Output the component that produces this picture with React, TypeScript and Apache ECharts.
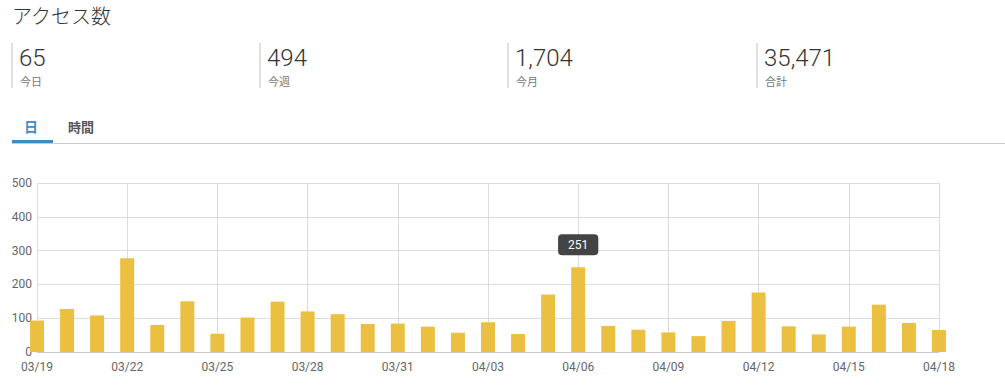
import React, { useEffect, useRef } from "react";
import * as echarts from "echarts";

const dates = [
  "03/19", "03/20", "03/21", "03/22", "03/23", "03/24", "03/25", "03/26", "03/27", "03/28",
  "03/29", "03/30", "03/31", "04/01", "04/02", "04/03", "04/04", "04/05", "04/06", "04/07",
  "04/08", "04/09", "04/10", "04/11", "04/12", "04/13", "04/14", "04/15", "04/16", "04/17", "04/18",
];
const visits = [
  93, 127, 108, 277, 80, 150, 54, 102, 149, 120, 112, 83, 84,
  75, 57, 88, 53, 170, 251, 77, 66, 58, 47, 92, 176,
  76, 52, 75, 140, 86, 65,
];
const highlightIndex = 18;
const statValues = ["65", "494", "1,704", "35,471"];
const statLabels = ["今日", "今週", "今月", "合計"];
const tabs = ["日", "時間"];
const title = "アクセス数";

const FONT = "'Noto Sans CJK JP', 'Noto Sans', sans-serif";
const NUM_FONT = "Roboto, 'Noto Sans', sans-serif";

export default function App() {
  const ref = useRef<HTMLDivElement>(null);
  useEffect(() => {
    if (!ref.current) return;
    const chart = echarts.init(ref.current, undefined, { renderer: "svg" });
    const statX = [12, 260, 508, 757];
    const graphic: any[] = [
      {
        type: "text",
        x: 12,
        y: 15,
        style: { text: title, font: `300 20px ${FONT}`, lineHeight: 22, fill: "#333", textVerticalAlign: "middle" },
      },
    ];
    statX.forEach((x, i) => {
      graphic.push({
        type: "line",
        shape: { x1: x, y1: 43, x2: x, y2: 88 },
        style: { stroke: "#d6d6d6", lineWidth: 1.5 },
      });
      graphic.push({
        type: "text",
        x: x + 7,
        y: 58,
        style: { text: statValues[i], font: `300 24px ${NUM_FONT}`, lineHeight: 24, fill: "#333", textVerticalAlign: "middle" },
      });
      graphic.push({
        type: "text",
        x: x + 8,
        y: 81,
        style: { text: statLabels[i], font: `11px ${FONT}`, lineHeight: 11, fill: "#777", textVerticalAlign: "middle" },
      });
    });
    graphic.push({
      type: "line",
      shape: { x1: 12, y1: 143.5, x2: 1005, y2: 143.5 },
      style: { stroke: "#c5ced6", lineWidth: 1 },
    });
    graphic.push({
      type: "rect",
      shape: { x: 12, y: 140, width: 41, height: 3 },
      style: { fill: "#3a8dcc" },
    });
    graphic.push({
      type: "text",
      x: 31,
      y: 126,
      style: { text: tabs[0], font: `bold 14px ${FONT}`, fill: "#3a8dcc", textAlign: "center", textVerticalAlign: "middle" },
    });
    graphic.push({
      type: "text",
      x: 81,
      y: 126,
      style: { text: tabs[1], font: `bold 13px ${FONT}`, fill: "#555", textAlign: "center", textVerticalAlign: "middle" },
    });

    chart.setOption({
      animation: false,
      graphic,
      grid: { left: 37, right: 66, top: 183, bottom: 39 },
      xAxis: {
        type: "category",
        data: dates,
        boundaryGap: false,
        axisLine: { lineStyle: { color: "#c8c8c8" } },
        axisTick: { show: false },
        axisLabel: { interval: 2, color: "#666", fontSize: 12, lineHeight: 12, fontFamily: NUM_FONT, margin: 9 },
        splitLine: { show: true, interval: 2, lineStyle: { color: "#dcdcdc" } },
      },
      yAxis: {
        type: "value",
        min: 0,
        max: 500,
        interval: 100,
        axisLine: { show: false },
        axisTick: { show: false },
        axisLabel: { color: "#666", fontSize: 12, lineHeight: 12, fontFamily: NUM_FONT, margin: 5 },
        splitLine: { lineStyle: { color: "#dcdcdc" } },
      },
      series: [
        {
          type: "bar",
          clip: false,
          barWidth: 14,
          itemStyle: { color: "#ebc040" },
          data: visits.map((v, i) =>
            i === highlightIndex
              ? {
                  value: v,
                  label: {
                    show: true,
                    position: "top",
                    distance: 12,
                    color: "#fff",
                    fontSize: 12,
                    lineHeight: 13,
                    fontFamily: NUM_FONT,
                    backgroundColor: "#444",
                    borderRadius: 4,
                    padding: [4, 10],
                  },
                }
              : v
          ),
        },
      ],
    });
    return () => chart.dispose();
  }, []);
  return (
    <div
      ref={ref}
      style={{ position: "absolute", left: 0, top: 0, width: 1005, height: 391, background: "#fff" }}
    />
  );
}
